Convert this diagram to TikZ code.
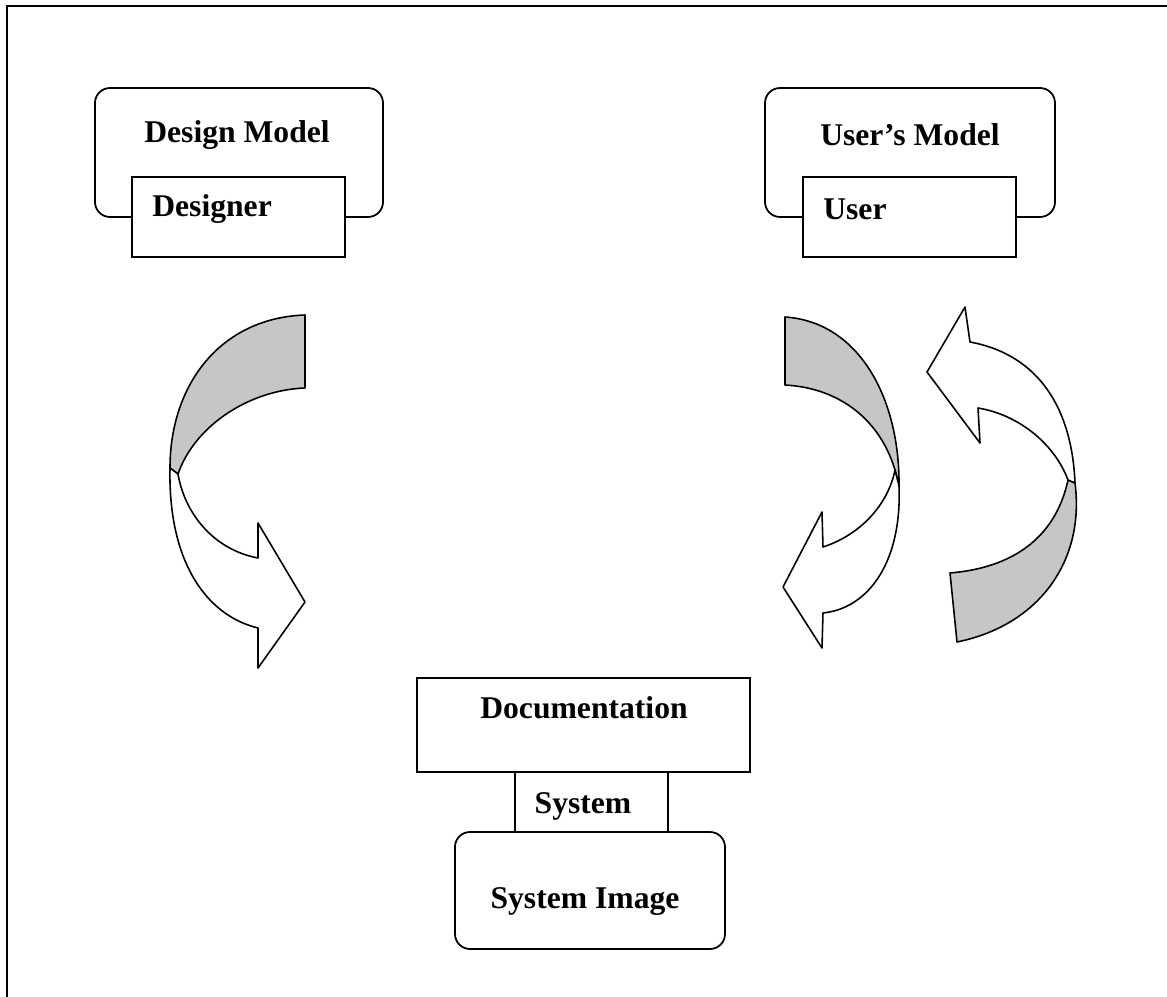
\documentclass[tikz,border=0pt]{standalone}
\usepackage{fontspec}
\setmainfont{Liberation Serif}
\tikzset{
    lbl/.style={inner sep=0pt,font=\fontsize{18}{22}\selectfont\bfseries},
    modelbox/.style={draw,line width=1pt,rounded corners=0.3cm},
    tagbox/.style={draw,line width=1pt,fill=white},
    ribbon/.style={draw,line width=0.9pt,line join=round},
    back/.style={ribbon,fill=gray!45},
    front/.style={ribbon,fill=white}
}

\begin{document}
\begin{tikzpicture}[x=0.02cm,y=-0.02cm]
\useasboundingbox (0,0) rectangle (1167,997);
    % page frame
    \draw[line width=0.8pt] (7,997) -- (7,6) -- (1167,6);

    % designer side
    \draw[modelbox] (95,88) rectangle (383,217);
    \node[lbl] (dmodel) at (237,135) {Design Model};
    \draw[tagbox] (132,177) rectangle (345,257);
    \node[lbl,anchor=west] (designer) at (152,209) {Designer};

    % user side
    \draw[modelbox] (765,88) rectangle (1055,217);
    \node[lbl] (umodel) at (910,135) {User’s Model};
    \draw[tagbox] (803,177) rectangle (1016,257);
    \node[lbl,anchor=west] (user) at (823,209) {User};

    % system
    \draw[tagbox] (417,678) rectangle (750,772);
    \node[lbl] (docu) at (584,708) {Documentation};
    \draw[tagbox] (515,772) rectangle (668,832);
    \node[lbl] (sys) at (583,806) {System};
    \draw[modelbox] (455,832) rectangle (725,949);
    \node[lbl] (sysimg) at (585,902) {System Image};

    % left arrow: designer -> system
    \draw[back] (305,315) .. controls (220,318) and (170,385) .. (170,468)
        -- (178,474) .. controls (195,425) and (250,390) .. (305,388) -- cycle;
    \draw[front] (170,468) .. controls (168,560) and (205,615) .. (258,628)
        -- (258,668) -- (305,602) -- (258,523) -- (258,558)
        .. controls (215,550) and (185,515) .. (178,474) -- cycle;

    % middle arrow: user -> system
    \draw[back] (785,317) .. controls (860,322) and (900,400) .. (899,486)
        -- (895,470) .. controls (880,420) and (840,388) .. (785,385) -- cycle;
    \draw[front] (899,486) .. controls (902,560) and (870,608) .. (823,613)
        -- (822,648) -- (783,587) -- (822,512) -- (823,547)
        .. controls (860,535) and (888,505) .. (895,470) -- cycle;

    % right arrow: system -> user
    \draw[back] (957,642) .. controls (1040,625) and (1085,560) .. (1075,483)
        -- (1068,480) .. controls (1055,540) and (1010,568) .. (950,573) -- cycle;
    \draw[front] (1075,483) .. controls (1072,410) and (1040,355) .. (970,342)
        -- (965,307) -- (927,372) -- (980,443) -- (978,408)
        .. controls (1020,415) and (1055,445) .. (1068,480) -- cycle;
\end{tikzpicture}
\end{document}
